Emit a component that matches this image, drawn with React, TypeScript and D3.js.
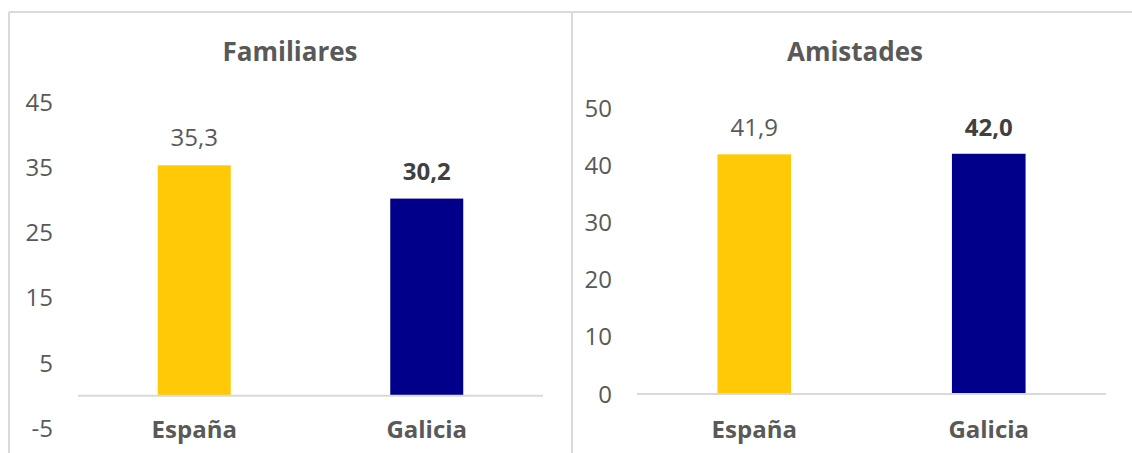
import React from "react";
import * as d3 from "d3";

const categories = ["España", "Galicia"];
const familiaresValues = [35.3, 30.2];
const amistadesValues = [41.9, 42.0];
const familiaresTicks = [-5, 5, 15, 25, 35, 45];
const amistadesTicks = [0, 10, 20, 30, 40, 50];
const boldLabel = [false, true];
const barColors = ["#FFC907", "#00008B"];
const titles = ["Familiares", "Amistades"];

const W = 1132;
const H = 453;
const FONT = "'Open Sans', sans-serif";
const GRID = "#D9D9D9";
const TEXT = "#595959";
const BOLD_TEXT = "#404040";

type PanelProps = {
  title: string;
  values: number[];
  ticks: number[];
  domain: [number, number];
  yRange: [number, number];
  xRange: [number, number];
  tickX: number;
  titleX: number;
  labelGap: number;
};

function Panel(p: PanelProps) {
  const x = d3
    .scaleBand<string>()
    .domain(categories)
    .range(p.xRange)
    .paddingInner(0.686)
    .paddingOuter(0.343);
  const y = d3.scaleLinear().domain(p.domain).range(p.yRange);
  const fmt = (v: number) => d3.format(".1f")(v).replace(".", ",");
  return (
    <g>
      <text
        x={p.titleX}
        y={61}
        textAnchor="middle"
        fontFamily={FONT}
        fontWeight={700}
        fontSize={26}
        fill={TEXT}
      >
        {p.title}
      </text>
      {p.ticks.map((t) => (
        <text
          key={t}
          x={p.tickX}
          y={y(t)}
          dy="0.36em"
          textAnchor="end"
          fontFamily={FONT}
          fontSize={24}
          fill={TEXT}
        >
          {t}
        </text>
      ))}
      {categories.map((c, i) => (
        <rect
          key={c}
          x={x(c)}
          y={y(p.values[i])}
          width={x.bandwidth()}
          height={y(0) - y(p.values[i])}
          fill={barColors[i]}
        />
      ))}
      <line
        x1={p.xRange[0]}
        x2={p.xRange[1]}
        y1={y(0)}
        y2={y(0)}
        stroke={GRID}
        strokeWidth={2}
      />
      {categories.map((c, i) => (
        <text
          key={"l" + c}
          x={(x(c) as number) + x.bandwidth() / 2}
          y={y(p.values[i]) - p.labelGap}
          textAnchor="middle"
          fontFamily={FONT}
          fontSize={24}
          fontWeight={boldLabel[i] ? 700 : 400}
          fill={boldLabel[i] ? BOLD_TEXT : TEXT}
        >
          {fmt(p.values[i])}
        </text>
      ))}
      {categories.map((c) => (
        <text
          key={"c" + c}
          x={(x(c) as number) + x.bandwidth() / 2}
          y={438}
          textAnchor="middle"
          fontFamily={FONT}
          fontSize={24}
          fontWeight={700}
          fill={TEXT}
        >
          {c}
        </text>
      ))}
    </g>
  );
}

export default function App() {
  return (
    <div style={{ position: "absolute", left: 0, top: 0 }}>
      <svg width={W} height={H} style={{ display: "block", background: "#fff" }}>
        <rect x={0} y={0} width={W} height={H} fill="#fff" />
        <line x1={9} x2={W} y1={12} y2={12} stroke={GRID} strokeWidth={2} />
        <line x1={9} x2={9} y1={12} y2={H} stroke={GRID} strokeWidth={2} />
        <line x1={572} x2={572} y1={12} y2={H} stroke={GRID} strokeWidth={2} />
        <Panel
          title={titles[0]}
          values={familiaresValues}
          ticks={familiaresTicks}
          domain={[-5, 45]}
          yRange={[428.3, 102]}
          xRange={[78, 543]}
          tickX={53}
          titleX={290}
          labelGap={19}
        />
        <Panel
          title={titles[1]}
          values={amistadesValues}
          ticks={amistadesTicks}
          domain={[0, 50]}
          yRange={[394, 108]}
          xRange={[637, 1106]}
          tickX={612}
          titleX={855}
          labelGap={18}
        />
      </svg>
    </div>
  );
}
